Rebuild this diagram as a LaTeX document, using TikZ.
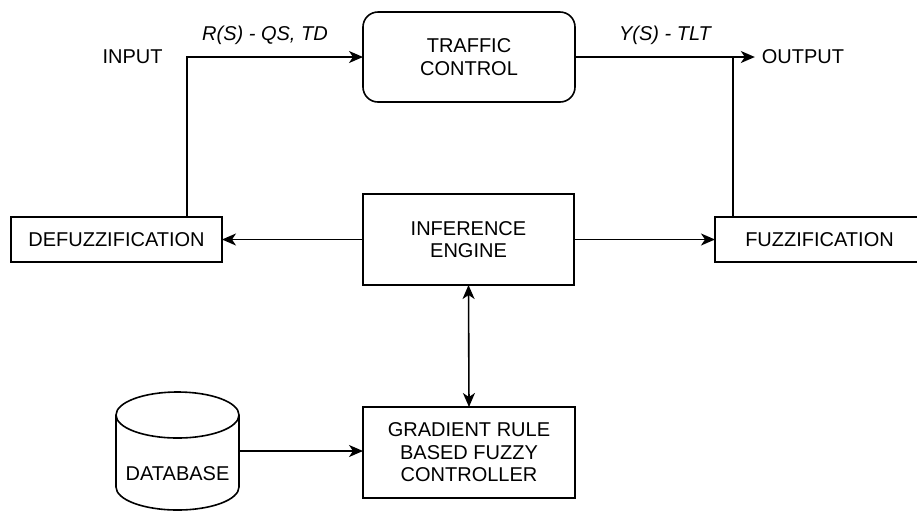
\documentclass[tikz,border=0pt]{standalone}
\usepackage{fontspec}
\setmainfont{Liberation Sans}
\usetikzlibrary{arrows.meta}

\tikzset{
    block/.style = {draw, line width = 0.8pt, outer sep = 0pt, align = center,
                    minimum width = 105.5pt, minimum height = 45.5pt},
    tip/.style   = {line width = 0.8pt},
    arr/.style   = {tip, -{Stealth[length = 7pt, width = 6pt, inset = 2pt]}},
    dblarr/.style = {tip, {Stealth[length = 7pt, width = 6pt, inset = 2pt]}-{Stealth[length = 7pt, width = 6pt, inset = 2pt]}},
    link/.style  = {line width = 0.8pt}
}

\begin{document}
\begin{tikzpicture}[x = 0.5pt, y = -0.5pt, font = \fontsize{10}{11.3}\selectfont]
            \useasboundingbox (0, 0) rectangle (917, 511);

            % Blocks
            \node[block, rounded corners = 7.5pt, minimum width = 106pt, minimum height = 45pt] (traffic) at (469, 57) {TRAFFIC\\CONTROL};
            \node[block] (infer) at (468.5, 239.5) {INFERENCE\\ENGINE};
            \node[block, minimum width = 106pt] (grad) at (469, 452.5) {GRADIENT RULE\\BASED FUZZY\\CONTROLLER};
            \node[block, minimum height = 22.5pt] (defuzz) at (116.5, 239.5) {DEFUZZIFICATION};
            \node[block, minimum width = 104.5pt, minimum height = 22.5pt] (fuzz) at (819.5, 239.5) {FUZZIFICATION};

            % Database drum
            \node[minimum width = 61.5pt, minimum height = 59pt, outer sep = 0pt, inner sep = 0pt] (db) at (177.5, 451) {};
            \draw[link] ([yshift = -11.5pt]db.north west) -- ([yshift = 11.5pt]db.south west)
                arc [start angle = 180, end angle = 360, x radius = 30.75pt, y radius = 11.5pt]
                -- ([yshift = -11.5pt]db.north east);
            \draw[link] ([yshift = -11.5pt]db.north) ellipse [x radius = 30.75pt, y radius = 11.5pt];
            \node (dbtext) at (177.5, 474) {DATABASE};

            % Input and output
            \node (input) at (132.5, 57) {INPUT};
            \node (output) at (803, 57) {OUTPUT};
            \coordinate (inbend) at (187, 57);
            \coordinate (outbend) at (733, 57);

            % Signals
            \node (rs) at (265, 35) {\itshape R(S) - QS, TD};
            \node (ys) at (665, 35) {\itshape Y(S) - TLT};

            % Connections
            \draw[arr] (defuzz.north -| inbend) |- (traffic.west);
            \draw[arr] (traffic.east) -- (output.west);
            \draw[link] (fuzz.north -| outbend) -- (outbend);
            \draw[arr] (infer.west) -- (defuzz.east);
            \draw[arr] (infer.east) -- (fuzz.west);
            \draw[dblarr] (infer.south) -- (grad.north);
            \draw[arr] (db.east) -- (db.east -| grad.west);
        \end{tikzpicture}
\end{document}
